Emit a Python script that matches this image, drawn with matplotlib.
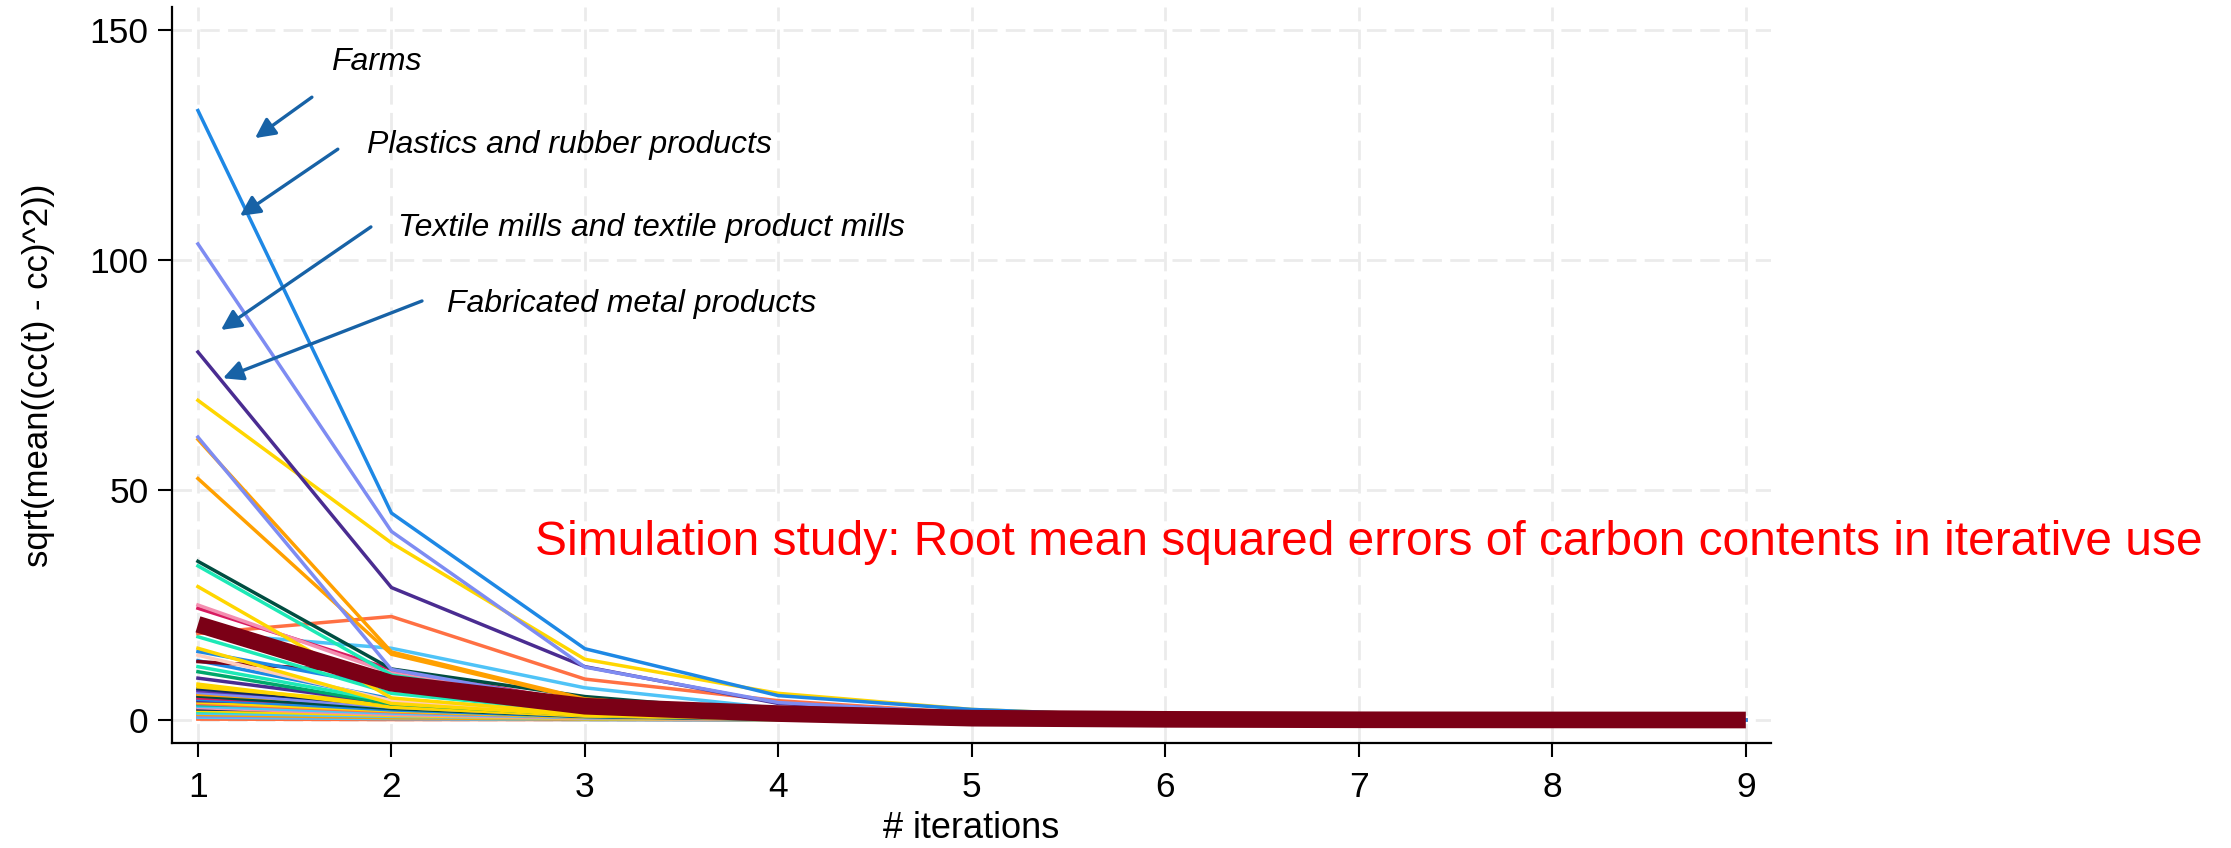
import matplotlib
matplotlib.use("Agg")
import matplotlib.pyplot as plt

plt.rcParams['font.family'] = ['Liberation Sans', 'DejaVu Sans']

iterations = [1, 2, 3, 4, 5, 6, 7, 8, 9]

# rmse per sector, one list per line
farms        = [132.5, 45.0, 15.5, 5.3, 2.3, 0.7, 0.2, 0.1, 0.0]
plastics     = [103.5, 41.0, 11.5, 3.8, 1.4, 0.4, 0.1, 0.0, 0.0]
fab_metal    = [80.0, 28.8, 11.6, 3.6, 1.5, 0.5, 0.2, 0.1, 0.0]
sector_y1    = [69.5, 38.5, 13.2, 5.8, 2.3, 0.7, 0.2, 0.1, 0.0]
textile      = [61.5, 11.0, 3.5, 1.2, 0.4, 0.1, 0.0, 0.0, 0.0]
sector_o1    = [61.0, 14.8, 4.6, 1.4, 0.4, 0.1, 0.0, 0.0, 0.0]
sector_o2    = [52.5, 14.3, 4.4, 1.3, 0.4, 0.1, 0.0, 0.0, 0.0]
sector_dt    = [34.5, 11.1, 5.1, 1.6, 0.5, 0.1, 0.0, 0.0, 0.0]
sector_aq1   = [33.5, 9.8, 3.0, 1.0, 0.3, 0.1, 0.0, 0.0, 0.0]
sector_y2    = [29.0, 4.8, 1.3, 0.4, 0.1, 0.0, 0.0, 0.0, 0.0]
sector_pk    = [25.0, 10.2, 3.3, 1.1, 0.4, 0.1, 0.0, 0.0, 0.0]
sector_cr    = [24.3, 11.0, 3.8, 1.2, 0.4, 0.1, 0.0, 0.0, 0.0]
sector_or    = [18.8, 22.5, 8.9, 4.2, 1.5, 0.5, 0.1, 0.0, 0.0]
sector_lb    = [19.0, 15.6, 7.0, 2.5, 0.9, 0.3, 0.1, 0.0, 0.0]
sector_aq2   = [18.1, 5.8, 1.8, 0.6, 0.2, 0.1, 0.0, 0.0, 0.0]
sector_y3    = [15.6, 3.6, 1.0, 0.3, 0.1, 0.0, 0.0, 0.0, 0.0]
sector_b2    = [14.9, 7.2, 2.2, 0.7, 0.2, 0.1, 0.0, 0.0, 0.0]
sector_pe    = [14.1, 4.2, 1.2, 0.4, 0.1, 0.0, 0.0, 0.0, 0.0]
sector_dr    = [12.7, 10.2, 3.0, 1.0, 0.3, 0.1, 0.0, 0.0, 0.0]
sector_b3    = [12.9, 4.6, 1.4, 0.4, 0.1, 0.0, 0.0, 0.0, 0.0]
sector_g1    = [11.6, 4.0, 1.2, 0.4, 0.1, 0.0, 0.0, 0.0, 0.0]
sector_g2    = [10.5, 3.5, 1.1, 0.3, 0.1, 0.0, 0.0, 0.0, 0.0]
sector_pu2   = [9.1, 3.7, 1.1, 0.3, 0.1, 0.0, 0.0, 0.0, 0.0]
sector_y4    = [7.8, 2.8, 0.9, 0.3, 0.1, 0.0, 0.0, 0.0, 0.0]
sector_l01   = [7.2, 3.6, 1.1, 0.4, 0.1, 0.0, 0.0, 0.0, 0.0]
sector_l02   = [6.8, 3.2, 1.0, 0.3, 0.1, 0.0, 0.0, 0.0, 0.0]
sector_l03   = [6.4, 3.8, 1.2, 0.4, 0.1, 0.0, 0.0, 0.0, 0.0]
sector_l04   = [6.0, 2.8, 0.9, 0.3, 0.1, 0.0, 0.0, 0.0, 0.0]
sector_l05   = [5.6, 3.3, 1.0, 0.3, 0.1, 0.0, 0.0, 0.0, 0.0]
sector_l06   = [5.2, 2.5, 0.8, 0.2, 0.1, 0.0, 0.0, 0.0, 0.0]
sector_l07   = [4.8, 3.0, 0.9, 0.3, 0.1, 0.0, 0.0, 0.0, 0.0]
sector_l08   = [4.5, 2.2, 0.7, 0.2, 0.1, 0.0, 0.0, 0.0, 0.0]
sector_l09   = [4.2, 3.4, 1.0, 0.3, 0.1, 0.0, 0.0, 0.0, 0.0]
sector_l10   = [3.9, 2.0, 0.6, 0.2, 0.1, 0.0, 0.0, 0.0, 0.0]
sector_l11   = [3.6, 1.8, 0.6, 0.2, 0.1, 0.0, 0.0, 0.0, 0.0]
sector_l12   = [3.3, 2.6, 0.8, 0.2, 0.1, 0.0, 0.0, 0.0, 0.0]
sector_l13   = [3.0, 1.5, 0.5, 0.2, 0.0, 0.0, 0.0, 0.0, 0.0]
sector_l14   = [2.7, 1.2, 0.4, 0.1, 0.0, 0.0, 0.0, 0.0, 0.0]
sector_l15   = [2.4, 1.9, 0.6, 0.2, 0.0, 0.0, 0.0, 0.0, 0.0]
sector_l16   = [2.1, 1.0, 0.3, 0.1, 0.0, 0.0, 0.0, 0.0, 0.0]
sector_l17   = [1.8, 1.4, 0.4, 0.1, 0.0, 0.0, 0.0, 0.0, 0.0]
sector_l18   = [1.5, 0.8, 0.3, 0.1, 0.0, 0.0, 0.0, 0.0, 0.0]
sector_l19   = [1.2, 0.5, 0.2, 0.1, 0.0, 0.0, 0.0, 0.0, 0.0]
sector_l20   = [0.9, 0.6, 0.2, 0.1, 0.0, 0.0, 0.0, 0.0, 0.0]
sector_l21   = [0.6, 0.3, 0.1, 0.0, 0.0, 0.0, 0.0, 0.0, 0.0]
sector_l22   = [0.3, 0.8, 0.3, 0.1, 0.0, 0.0, 0.0, 0.0, 0.0]
sector_l23   = [0.2, 0.1, 0.1, 0.0, 0.0, 0.0, 0.0, 0.0, 0.0]

mean_rmse    = [20.8, 8.0, 3.0, 1.4, 0.4, 0.15, 0.05, 0.02, 0.0]

annot_labels = ["Farms", "Plastics and rubber products",
                "Textile mills and textile product mills", "Fabricated metal products"]
title_text = "Simulation study: Root mean squared errors of carbon contents in iterative use"

sectors = [sector_l23, sector_l22, sector_l21, sector_l20, sector_l19, sector_l18,
           sector_l17, sector_l16, sector_l15, sector_l14, sector_l13, sector_l12,
           sector_l11, sector_l10, sector_l09, sector_l08, sector_l07, sector_l06,
           sector_l05, sector_l04, sector_l03, sector_l02, sector_l01,
           sector_y4, sector_pu2, sector_g2, sector_g1, sector_b3, sector_dr,
           sector_pe, sector_b2, sector_y3, sector_aq2, sector_lb, sector_or,
           sector_cr, sector_pk, sector_y2, sector_aq1, sector_dt, sector_o2,
           sector_o1, textile, sector_y1, fab_metal, plastics, farms]
colors = ['#ff6e40', '#ff7043', '#4fc3f7', '#7e8cf2', '#ffa000', '#4fc3f7',
          '#1de9b6', '#ffd600', '#0d2b5e', '#f48fb1', '#4fc3f7', '#00bfa5',
          '#ff7043', '#ffd600', '#4a2c91', '#1e88e5', '#d81b60', '#004d40',
          '#ffa000', '#7e8cf2', '#5e35b1', '#0d2b5e', '#ffd600',
          '#ffd600', '#4a2c91', '#00a86b', '#1de9b6', '#1e88e5', '#7b0016',
          '#ffccbc', '#1e88e5', '#ffd600', '#1de9b6', '#4fc3f7', '#ff7043',
          '#d81b60', '#f48fb1', '#ffd600', '#1de9b6', '#004d40', '#ffa000',
          '#ffa000', '#7e8cf2', '#ffd600', '#4a2c91', '#7e8cf2', '#1e88e5']

fig = plt.figure(figsize=(22.31, 8.48), dpi=100)
ax = fig.add_axes([0.0771, 0.1238, 0.7167, 0.8679])

for s, c in zip(sectors, colors):
    ax.plot(iterations, s, color=c, lw=2.5, solid_joinstyle='miter')
ax.plot(iterations, mean_rmse, color='#7b0016', lw=12, solid_capstyle='butt')

ax.set_xlim(0.866, 9.13)
ax.set_ylim(-5, 155)
ax.set_xticks(iterations)
ax.set_yticks([0, 50, 100, 150])
ax.grid(True, color='#ebebeb', lw=2, linestyle=(0, (7, 3)))
ax.set_axisbelow(True)
for sp in ['top', 'right']:
    ax.spines[sp].set_visible(False)
for sp in ['left', 'bottom']:
    ax.spines[sp].set_linewidth(1.6)
ax.tick_params(axis='both', direction='out', length=10, width=1.5, labelsize=25.5)
ax.tick_params(axis='x', pad=10)
ax.tick_params(axis='y', pad=7)
ax.set_xlabel('# iterations', fontsize=26)
ax.set_ylabel('sqrt(mean((cc(t) - cc)^2))', fontsize=25)
ax.yaxis.set_label_coords(-0.0732, 0.5)
ax.xaxis.set_label_coords(0.5, -0.092)

# annotations with arrows
arrow_tails = [(1.589, 135.4), (1.723, 124.1), (1.894, 107.2), (2.158, 91.1)]
arrow_heads = [(1.295, 126.5), (1.217, 109.6), (1.119, 84.8), (1.129, 74.3)]
text_pos = [(1.687, 143.0), (1.873, 125.0), (2.034, 107.0), (2.287, 90.4)]
for lab, tail, head, tp in zip(annot_labels, arrow_tails, arrow_heads, text_pos):
    ax.annotate('', xy=head, xytext=tail,
                arrowprops=dict(arrowstyle='-|>', color='#1762a6', lw=2.4,
                                mutation_scale=30, shrinkA=0, shrinkB=0))
    ax.text(tp[0], tp[1], lab, fontsize=23, style='italic', va='center', ha='left')

ax.text(2.74, 38.5, title_text, color='#ff0000', fontsize=34.5, va='center', ha='left')

plt.savefig('out.png', dpi=100)
